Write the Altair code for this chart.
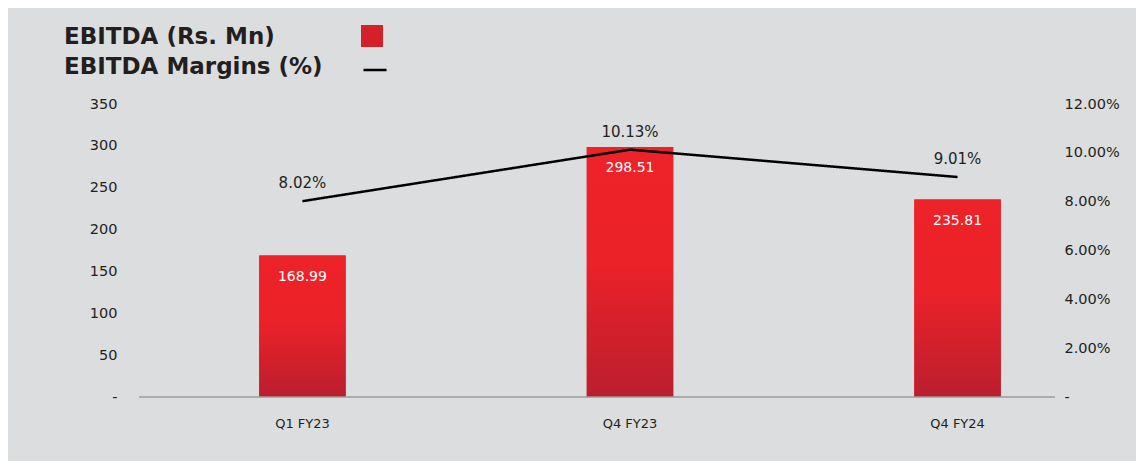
import altair as alt
import pandas as pd

quarters = ["Q1 FY23", "Q4 FY23", "Q4 FY24"]
ebitda = [168.99, 298.51, 235.81]
margins = [8.02, 10.13, 9.01]
left_ticks = [0, 50, 100, 150, 200, 250, 300, 350]
right_ticks = [0, 2, 4, 6, 8, 10, 12]
series_bar = "EBITDA (Rs. Mn)"
series_line = "EBITDA Margins (%)"

df = pd.DataFrame({
    "quarter": quarters, "ebitda": ebitda, "margin": margins,
    "bar_series": [series_bar] * len(quarters),
    "line_series": [series_line] * len(quarters),
})
base_df = pd.DataFrame({"ebitda": [0]})

FONT = "DejaVu Sans"
TEXT = "#231f20"
BG = "#dcdddf"

bar_gradient = alt.LinearGradient(
    gradient="linear", x1=0, y1=0, x2=0, y2=1,
    stops=[
        alt.GradientStop(offset=0, color="#ee2229"),
        alt.GradientStop(offset=0.45, color="#ec2229"),
        alt.GradientStop(offset=1, color="#bb1e2e"),
    ],
)

x_enc = alt.X(
    "quarter:N", sort=quarters, title=None,
    scale=alt.Scale(range=[0, 982], paddingInner=0.736, paddingOuter=0.367),
    axis=alt.Axis(domain=False, ticks=False, grid=False, labelAngle=0,
                  labelFontSize=13, labelPadding=20, labelColor=TEXT, labelFont=FONT),
)

left_axis = alt.Axis(values=left_ticks, domain=False, ticks=False, grid=False,
                     labelExpr="datum.value == 0 ? '-' : datum.label",
                     labelFontSize=14.5, labelPadding=22, labelColor=TEXT, labelFont=FONT)

y_bar = alt.Y("ebitda:Q", title=None,
              scale=alt.Scale(domain=[0, 350], nice=False), axis=left_axis)

y_line = alt.Y(
    "margin:Q", title=None,
    scale=alt.Scale(domain=[0, 12], nice=False),
    axis=alt.Axis(orient="right", values=right_ticks, domain=False, ticks=False, grid=False,
                  labelExpr="datum.value == 0 ? '-' : format(datum.value, '.2f') + '%'",
                  labelFontSize=14.5, labelPadding=9, labelColor=TEXT, labelFont=FONT),
)

# solid bars carrying the legend entry (hidden beneath the gradient bars)
legend_bars = alt.Chart(df).mark_bar().encode(
    x=x_enc, y=y_bar,
    color=alt.Color(
        "bar_series:N",
        scale=alt.Scale(domain=[series_bar], range=["#d42129"]),
        legend=alt.Legend(orient="none", legendX=222, legendY=-79, title=None,
                          labelExpr="''", symbolType="square", symbolSize=484,
                          symbolStrokeWidth=0, padding=0, symbolOpacity=1),
    ),
)

bars = alt.Chart(df).mark_bar(color=bar_gradient).encode(x=x_enc, y=y_bar)

bar_labels = alt.Chart(df).mark_text(
    dy=21, fontSize=14, color="white", font=FONT, baseline="middle"
).encode(x=x_enc, y=y_bar, text=alt.Text("ebitda:Q", format=".2f"))

baseline = alt.Chart(base_df).mark_rule(color="#9b9b9b", strokeWidth=1.5).encode(
    y=y_bar, x=alt.value(0), x2=alt.value("width"),
)

bar_group = alt.layer(legend_bars, bars, bar_labels, baseline)

line = alt.Chart(df).mark_line(color="black", strokeWidth=2.5).encode(
    x=x_enc, y=y_line,
    strokeDash=alt.StrokeDash(
        "line_series:N",
        scale=alt.Scale(domain=[series_line], range=[[1, 0]]),
        legend=alt.Legend(orient="none", legendX=223, legendY=-47, title=None,
                          labelExpr="''", symbolType="stroke", symbolSize=529,
                          symbolStrokeWidth=2.5, symbolStrokeColor="black", padding=0),
    ),
)

line_labels = alt.Chart(df).transform_calculate(
    lbl="format(datum.margin, '.2f') + '%'"
).mark_text(dy=-18, fontSize=15, color=TEXT, font=FONT, baseline="middle").encode(
    x=x_enc, y=y_line, text="lbl:N"
)

line_group = alt.layer(line, line_labels)

chart = alt.layer(bar_group, line_group).resolve_scale(y="independent").properties(
    width=916,
    height=293,
    autosize="none",
    padding={"left": 131, "top": 96, "right": 81, "bottom": 64},
    background=BG,
    title=alt.TitleParams(
        text=[series_bar, series_line], anchor="start", frame="group",
        font=FONT, fontSize=23, fontWeight="bold", color=TEXT,
        lineHeight=30, dx=-75, dy=78, offset=24,
    ),
).configure_view(strokeWidth=0)

chart.save("out.html", embed_options={"renderer": "svg", "actions": False})
